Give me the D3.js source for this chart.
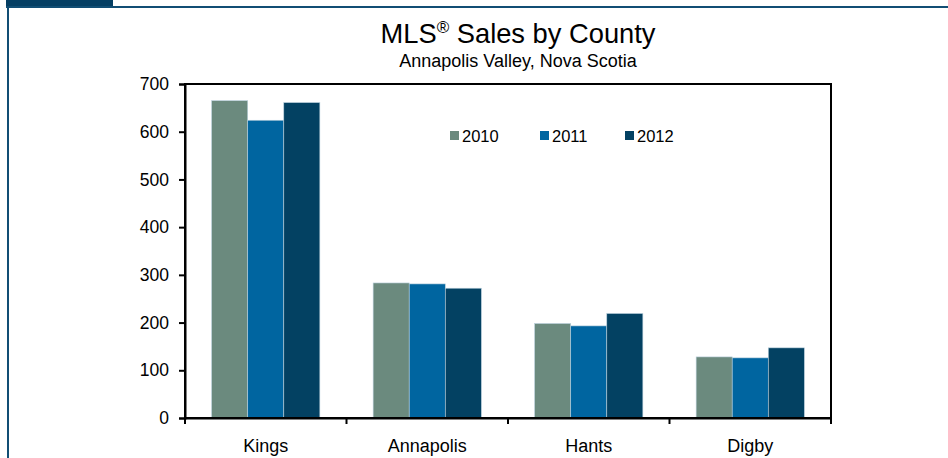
<!DOCTYPE html>
<html><head><meta charset="utf-8">
<script src="https://cdn.jsdelivr.net/npm/d3@7"></script>
<style>body{margin:0;background:#fff}svg{display:block;font-family:"Liberation Sans",Arial,sans-serif}</style>
</head><body><svg id="c" width="948" height="458"></svg>
<script>
const categories = ["Kings", "Annapolis", "Hants", "Digby"];
const seriesNames = ["2010", "2011", "2012"];
const values2010 = [665, 283, 198, 128];
const values2011 = [624, 281, 193, 126];
const values2012 = [661, 272, 219, 147];
const yTicks = [0, 100, 200, 300, 400, 500, 600, 700];
const colors = ["#6b8a7e", "#0065a0", "#034162"];

const svg = d3.select("#c");
const W = 948, H = 458;
const L = 185, R = 831, T = 84, B = 418;

// frame decoration
svg.append("rect").attr("x", 6).attr("y", 0).attr("width", 107).attr("height", 7).attr("fill", "#053f63");
svg.append("rect").attr("x", 6).attr("y", 6).attr("width", W - 6).attr("height", 2).attr("fill", "#114e74");
svg.append("rect").attr("x", 7).attr("y", 6).attr("width", 2).attr("height", H - 6).attr("fill", "#114e74");

const x0 = d3.scaleBand().domain(categories).range([L, R]).paddingInner(0.33).paddingOuter(0.165);
const x1 = d3.scaleBand().domain(seriesNames).range([0, x0.bandwidth()]);
const y = d3.scaleLinear().domain([0, 700]).range([B, T]);
const xCat = d3.scaleBand().domain(categories).range([L, R]);

const data = categories.map((c, i) => ({cat: c, vals: [values2010[i], values2011[i], values2012[i]]}));

const g = svg.append("g");
g.selectAll("g.grp").data(data).join("g").attr("class", "grp")
  .attr("transform", d => `translate(${x0(d.cat)},0)`)
  .selectAll("rect").data(d => d.vals.map((v, j) => ({s: seriesNames[j], v, j})))
  .join("rect")
  .attr("x", d => x1(d.s)).attr("width", x1.bandwidth())
  .attr("y", d => y(d.v)).attr("height", d => B - y(d.v))
  .attr("fill", d => colors[d.j])
  .attr("stroke", "#b9cfdc").attr("stroke-width", 0.6);

// plot border
svg.append("rect").attr("x", L).attr("y", T).attr("width", R - L).attr("height", B - T)
  .attr("fill", "none").attr("stroke", "#000").attr("stroke-width", 2);

// y axis
const ya = svg.append("g").attr("transform", `translate(${L},0)`)
  .call(d3.axisLeft(y).tickValues(yTicks).tickSize(6).tickPadding(10).tickFormat(d3.format("d")));
ya.select(".domain").attr("stroke-width", 2);
ya.selectAll(".tick line").attr("stroke-width", 2);
ya.selectAll("text").attr("font-size", 17.5).attr("fill", "#000").attr("font-family", "Liberation Sans, Arial, sans-serif");

// x axis
const xa = svg.append("g").attr("transform", `translate(0,${B})`)
  .call(d3.axisBottom(xCat).tickSize(0).tickPadding(21));
xa.select(".domain").attr("stroke-width", 2);
xa.selectAll("text").attr("font-size", 18).attr("fill", "#000").attr("font-family", "Liberation Sans, Arial, sans-serif");
const bounds = categories.map(c => xCat(c)).concat([R]);
svg.append("g").selectAll("line").data(bounds).join("line")
  .attr("x1", d => d).attr("x2", d => d).attr("y1", B).attr("y2", B + 6)
  .attr("stroke", "#000").attr("stroke-width", 2);

// titles
const title = svg.append("text").attr("x", 518).attr("y", 43).attr("text-anchor", "middle")
  .attr("font-size", 27.3).attr("fill", "#000");
title.append("tspan").text("MLS");
title.append("tspan").text("®").attr("font-size", 17).attr("dy", -10);
title.append("tspan").text(" Sales by County").attr("dy", 10);
svg.append("text").attr("x", 518).attr("y", 67).attr("text-anchor", "middle")
  .attr("font-size", 18).attr("fill", "#000").text("Annapolis Valley, Nova Scotia");

// legend
const legX = [450, 540, 625];
const leg = svg.append("g").selectAll("g").data(seriesNames).join("g")
  .attr("transform", (d, i) => `translate(${legX[i]},136)`);
leg.append("rect").attr("x", 0).attr("y", -5).attr("width", 9).attr("height", 9).attr("fill", (d, i) => colors[i]);
leg.append("text").attr("x", 12).attr("y", 6).attr("font-size", 16.5).attr("fill", "#000").text(d => d);
</script></body></html>
